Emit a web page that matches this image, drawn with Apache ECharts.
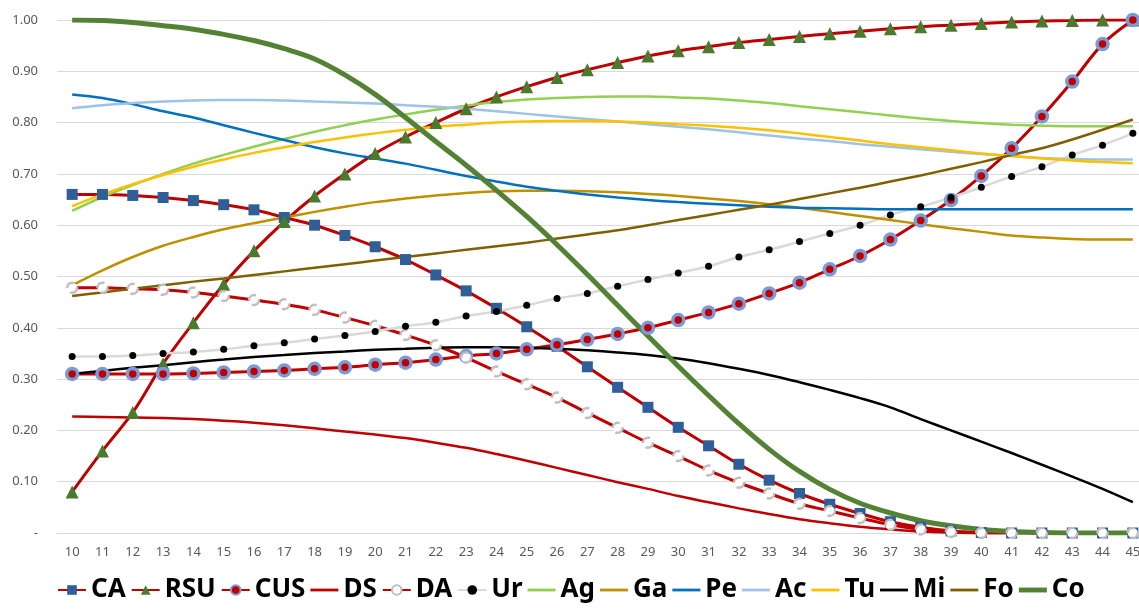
<!DOCTYPE html>
<html>
<head>
<meta charset="utf-8">
<script src="https://cdn.jsdelivr.net/npm/echarts@6/dist/echarts.min.js"></script>
<style>
  html, body { margin: 0; padding: 0; background: #fff; }
  #main { width: 1139px; height: 609px; }
</style>
</head>
<body>
<div id="main"></div>
<script>
var chartDom = document.getElementById('main');
var myChart = echarts.init(chartDom);
var option;

// x categories
var ages = [];
for (var a = 10; a <= 45; a++) ages.push(String(a));

// series values
var CA = [0.66, 0.66, 0.658, 0.654, 0.648, 0.64, 0.63, 0.615, 0.60, 0.58, 0.558, 0.533, 0.503, 0.472, 0.438, 0.402, 0.364, 0.324, 0.284, 0.245, 0.206, 0.17, 0.134, 0.103, 0.077, 0.056, 0.038, 0.022, 0.011, 0.004, 0.001, 0, 0, 0, 0, 0];
var RSU = [0.08, 0.16, 0.235, 0.33, 0.41, 0.485, 0.55, 0.607, 0.657, 0.70, 0.74, 0.772, 0.80, 0.827, 0.85, 0.87, 0.888, 0.903, 0.917, 0.93, 0.94, 0.948, 0.956, 0.962, 0.968, 0.973, 0.978, 0.983, 0.987, 0.99, 0.993, 0.996, 0.998, 0.999, 1.0, 1.0];
var CUS = [0.31, 0.31, 0.31, 0.31, 0.311, 0.313, 0.315, 0.317, 0.32, 0.323, 0.328, 0.332, 0.338, 0.345, 0.35, 0.358, 0.367, 0.377, 0.388, 0.40, 0.415, 0.43, 0.447, 0.467, 0.488, 0.514, 0.54, 0.572, 0.609, 0.649, 0.696, 0.75, 0.812, 0.88, 0.953, 1.0];
var DS = [0.227, 0.226, 0.225, 0.224, 0.222, 0.219, 0.215, 0.21, 0.204, 0.198, 0.192, 0.185, 0.176, 0.166, 0.154, 0.141, 0.127, 0.113, 0.099, 0.086, 0.072, 0.06, 0.048, 0.037, 0.027, 0.019, 0.012, 0.007, 0.003, 0.001, 0, 0, 0, 0, 0, 0];
var DA = [0.478, 0.478, 0.476, 0.474, 0.469, 0.462, 0.454, 0.446, 0.435, 0.42, 0.404, 0.386, 0.366, 0.342, 0.315, 0.29, 0.264, 0.234, 0.205, 0.176, 0.15, 0.122, 0.098, 0.077, 0.057, 0.043, 0.029, 0.016, 0.007, 0.002, 0, 0, 0, 0, 0, 0];
var Ur = [0.344, 0.344, 0.346, 0.35, 0.353, 0.358, 0.365, 0.371, 0.378, 0.385, 0.393, 0.403, 0.411, 0.423, 0.432, 0.444, 0.457, 0.467, 0.481, 0.494, 0.507, 0.52, 0.538, 0.552, 0.568, 0.584, 0.60, 0.62, 0.636, 0.654, 0.674, 0.695, 0.714, 0.737, 0.756, 0.779];
var Ag = [0.628, 0.655, 0.678, 0.70, 0.72, 0.737, 0.753, 0.768, 0.782, 0.795, 0.806, 0.816, 0.825, 0.833, 0.84, 0.845, 0.848, 0.85, 0.851, 0.851, 0.849, 0.847, 0.843, 0.838, 0.832, 0.826, 0.82, 0.814, 0.808, 0.803, 0.799, 0.796, 0.794, 0.793, 0.793, 0.793];
var Ga = [0.483, 0.512, 0.538, 0.56, 0.577, 0.592, 0.604, 0.615, 0.626, 0.636, 0.645, 0.652, 0.658, 0.663, 0.666, 0.667, 0.667, 0.666, 0.664, 0.661, 0.657, 0.652, 0.647, 0.641, 0.634, 0.626, 0.618, 0.61, 0.602, 0.594, 0.587, 0.58, 0.576, 0.573, 0.572, 0.572];
var Pe = [0.855, 0.848, 0.836, 0.822, 0.81, 0.795, 0.78, 0.766, 0.752, 0.74, 0.73, 0.72, 0.708, 0.696, 0.685, 0.675, 0.667, 0.66, 0.654, 0.649, 0.645, 0.642, 0.639, 0.636, 0.634, 0.633, 0.632, 0.631, 0.631, 0.631, 0.631, 0.631, 0.631, 0.631, 0.631, 0.631];
var Ac = [0.828, 0.834, 0.838, 0.841, 0.843, 0.844, 0.844, 0.843, 0.841, 0.839, 0.837, 0.834, 0.831, 0.827, 0.822, 0.817, 0.812, 0.807, 0.802, 0.797, 0.792, 0.787, 0.781, 0.775, 0.769, 0.764, 0.758, 0.753, 0.748, 0.743, 0.739, 0.735, 0.731, 0.729, 0.728, 0.728];
var Tu = [0.637, 0.66, 0.68, 0.698, 0.714, 0.728, 0.741, 0.752, 0.762, 0.771, 0.779, 0.786, 0.792, 0.796, 0.80, 0.802, 0.803, 0.803, 0.802, 0.80, 0.797, 0.794, 0.79, 0.785, 0.779, 0.772, 0.765, 0.758, 0.752, 0.746, 0.74, 0.735, 0.73, 0.726, 0.723, 0.721];
var Mi = [0.31, 0.316, 0.322, 0.327, 0.333, 0.338, 0.343, 0.347, 0.351, 0.354, 0.357, 0.359, 0.361, 0.362, 0.362, 0.361, 0.359, 0.356, 0.352, 0.347, 0.34, 0.331, 0.32, 0.308, 0.294, 0.279, 0.263, 0.245, 0.222, 0.20, 0.178, 0.156, 0.133, 0.11, 0.086, 0.06];
var Fo = [0.462, 0.469, 0.476, 0.483, 0.49, 0.496, 0.503, 0.51, 0.517, 0.524, 0.531, 0.538, 0.545, 0.552, 0.559, 0.566, 0.574, 0.582, 0.59, 0.60, 0.61, 0.62, 0.63, 0.64, 0.651, 0.662, 0.673, 0.685, 0.697, 0.71, 0.723, 0.737, 0.75, 0.767, 0.786, 0.806];
var Co = [1.0, 0.999, 0.995, 0.989, 0.982, 0.972, 0.96, 0.944, 0.924, 0.893, 0.855, 0.81, 0.763, 0.717, 0.668, 0.617, 0.562, 0.504, 0.444, 0.384, 0.325, 0.268, 0.213, 0.163, 0.12, 0.085, 0.058, 0.039, 0.024, 0.014, 0.007, 0.003, 0.001, 0, 0, 0];

var RED = '#c00000';
var LINE_ICON = 'path://M0,0 L40,0 L40,4 L0,4 Z';
var THICK_ICON = 'path://M0,0 L40,0 L40,7 L0,7 Z';

function plain(name, data, color, width) {
    return {
        name: name, type: 'line', data: data, smooth: 0.35,
        symbol: 'none', showSymbol: false,
        lineStyle: { color: color, width: width },
        itemStyle: { color: color }
    };
}

function marked(name, data, lineColor, symbol, size, itemStyle) {
    return {
        name: name, type: 'line', data: data, smooth: 0.35,
        symbol: symbol, symbolSize: size, showSymbol: true,
        lineStyle: { color: lineColor, width: 3 },
        itemStyle: itemStyle
    };
}

var series = [
    marked('CA', CA, RED, 'rect', 11, { color: '#2e5f99' }),
    marked('RSU', RSU, RED, 'triangle', 13, { color: '#4a7a2e' }),
    marked('CUS', CUS, RED, 'circle', 11, { color: RED, borderColor: '#7b9bd6', borderWidth: 3.5 }),
    plain('DS', DS, RED, 2.5),
    marked('DA', DA, RED, 'circle', 10, { color: '#ffffff', borderColor: '#bfbfbf', borderWidth: 2.5, borderType: 'dashed' }),
    marked('Ur', Ur, '#d9d9d9', 'circle', 7, { color: '#000000' }),
    plain('Ag', Ag, '#92d050', 2.5),
    plain('Ga', Ga, '#bf9000', 2.5),
    plain('Pe', Pe, '#0070c0', 2.5),
    plain('Ac', Ac, '#9dc3e6', 2.5),
    plain('Tu', Tu, '#ffc000', 2.5),
    plain('Mi', Mi, '#000000', 2.5),
    plain('Fo', Fo, '#7f6000', 2.5),
    plain('Co', Co, '#548235', 5)
];
series[5].lineStyle.width = 2.5;

option = {
    animation: false,
    backgroundColor: '#ffffff',
    textStyle: { fontFamily: 'Noto Sans' },
    grid: { left: 57, width: 1091, top: 20, bottom: 76, containLabel: false, outerBoundsMode: 'none' },
    legend: {
        top: 572,
        left: 52,
        itemWidth: 28,
        itemHeight: 12,
        itemGap: 5,
        textStyle: { fontSize: 26, fontWeight: 'bold', color: '#000000', fontFamily: 'Noto Sans' },
        data: series.map(function (s) {
            if (s.showSymbol) return s.name;
            return { name: s.name, icon: s.name === 'Co' ? THICK_ICON : LINE_ICON };
        })
    },
    xAxis: {
        type: 'category',
        data: ages,
        boundaryGap: true,
        axisLine: { show: false },
        axisTick: { show: false },
        axisLabel: { color: '#595959', fontSize: 13, margin: 13, interval: 0 }
    },
    yAxis: {
        type: 'value',
        min: 0,
        max: 1,
        interval: 0.1,
        axisLine: { show: false },
        axisTick: { show: false },
        splitLine: { lineStyle: { color: '#d9d9d9', width: 1 } },
        axisLabel: {
            color: '#595959', fontSize: 13, margin: 19,
            formatter: function (v) { return v === 0 ? '-' : v.toFixed(2); }
        }
    },
    series: series
};

option && myChart.setOption(option);
</script>
</body>
</html>
